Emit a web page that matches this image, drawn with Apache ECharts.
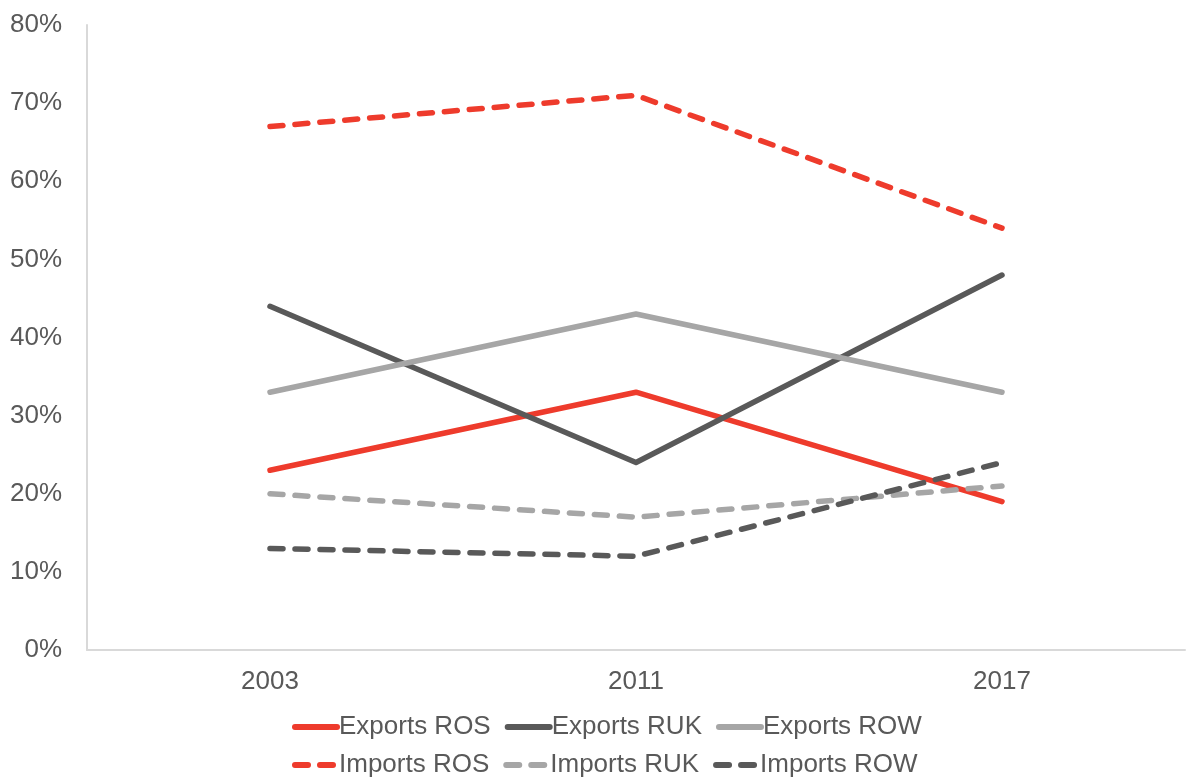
<!DOCTYPE html>
<html><head><meta charset="utf-8">
<script src="https://cdn.jsdelivr.net/npm/echarts@6/dist/echarts.min.js"></script>
<style>html,body{margin:0;padding:0;background:#fff;}#c{width:1188px;height:778px;}</style>
</head><body><div id="c"></div>
<script>
const categories = ['2003', '2011', '2017'];
const exportsROS = [23, 33, 19];
const exportsRUK = [44, 24, 48];
const exportsROW = [33, 43, 33];
const importsROS = [67, 71, 54];
const importsRUK = [20, 17, 21];
const importsROW = [13, 12, 24];
const yTicks = [0, 10, 20, 30, 40, 50, 60, 70, 80];

const RED = '#EE3B2C', DARK = '#595959', LIGHT = '#A6A6A6';
const FONT = '"Liberation Sans", Arial, sans-serif';

function mk(name, data, color, dashed) {
  return {
    name, type: 'line', data, symbol: 'none', smooth: false,
    lineStyle: { color, width: 5.5, type: dashed ? [13, 12] : 'solid', cap: 'round', join: 'round' },
    itemStyle: { color },
    emphasis: { disabled: true }
  };
}

const chart = echarts.init(document.getElementById('c'), null, { renderer: 'canvas' });
const legendText = { color: DARK, fontSize: 26, fontFamily: FONT, padding: [0, 0, 0, -3] };
const legendBase = {
  left: 287, itemWidth: 42, itemHeight: 14, itemGap: 14, textStyle: legendText,
  itemStyle: { opacity: 0 },
  lineStyle: { width: 6, cap: 'round', type: 'inherit', color: 'inherit' }
};
chart.setOption({
  animation: false,
  grid: { left: 87, right: 3, top: 25, bottom: 128 },
  legend: [
    Object.assign({ data: ['Exports ROS', 'Exports RUK', 'Exports ROW'], top: 709 }, legendBase),
    Object.assign({ data: ['Imports ROS', 'Imports RUK', 'Imports ROW'], top: 747 }, legendBase)
  ],
  xAxis: {
    type: 'category', data: categories, boundaryGap: true,
    axisLine: { lineStyle: { color: '#D9D9D9', width: 2 } },
    axisTick: { show: false },
    axisLabel: { color: DARK, fontSize: 26, fontFamily: FONT, margin: 19 }
  },
  yAxis: {
    type: 'value', min: yTicks[0], max: yTicks[yTicks.length - 1], interval: 10,
    axisLine: { show: true, lineStyle: { color: '#D9D9D9', width: 2 } },
    axisTick: { show: false },
    splitLine: { show: false },
    axisLabel: { color: DARK, fontSize: 26, fontFamily: FONT, margin: 25, formatter: v => v + '%' }
  },
  series: [
    mk('Exports ROS', exportsROS, RED, false),
    mk('Exports RUK', exportsRUK, DARK, false),
    mk('Exports ROW', exportsROW, LIGHT, false),
    mk('Imports ROS', importsROS, RED, true),
    mk('Imports RUK', importsRUK, LIGHT, true),
    mk('Imports ROW', importsROW, DARK, true)
  ]
});
</script></body></html>
